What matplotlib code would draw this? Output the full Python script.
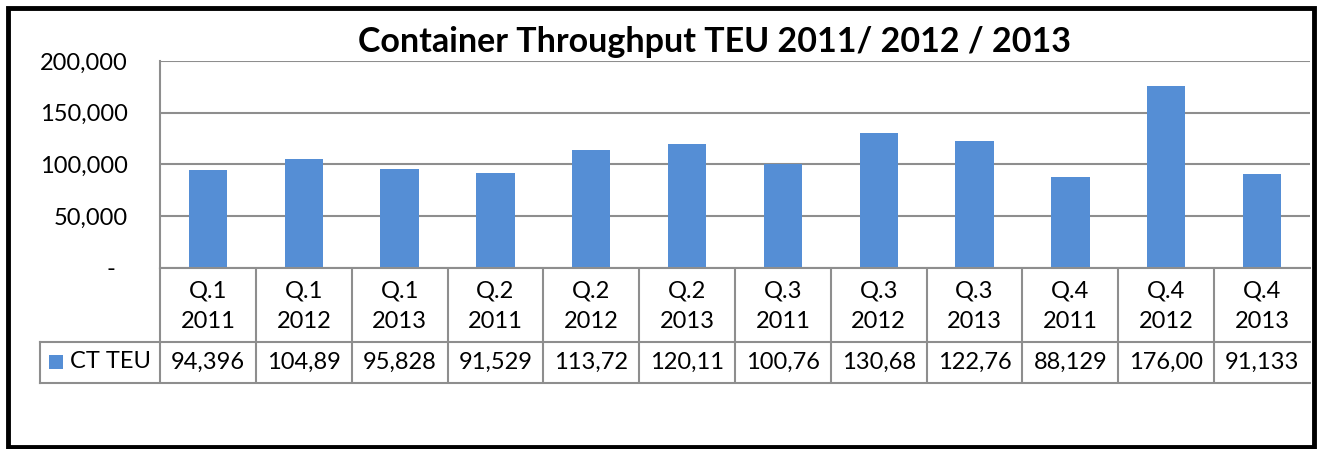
import matplotlib
matplotlib.use("Agg")
import matplotlib.pyplot as plt
from matplotlib.patches import Rectangle
from matplotlib.ticker import FuncFormatter

plt.rcParams['font.family'] = ['Lato', 'DejaVu Sans']

# ---- data ----
quarters = ["Q.1", "Q.1", "Q.1", "Q.2", "Q.2", "Q.2", "Q.3", "Q.3", "Q.3", "Q.4", "Q.4", "Q.4"]
years = ["2011", "2012", "2013", "2011", "2012", "2013", "2011", "2012", "2013", "2011", "2012", "2013"]
values = [94396, 104890, 95828, 91529, 113720, 120110, 100760, 130680, 122760, 88129, 176000, 91133]
table_labels = ["94,396", "104,89", "95,828", "91,529", "113,72", "120,11",
                "100,76", "130,68", "122,76", "88,129", "176,00", "91,133"]
series_name = "CT TEU"
title = "Container Throughput TEU 2011/ 2012 / 2013"
yticks = [0, 50000, 100000, 150000, 200000]

W, H = 1320, 449
DPI = 100
fig = plt.figure(figsize=(W / DPI, H / DPI), dpi=DPI)
fig.patch.set_facecolor("white")

def fx(px):
    return px / W

def fy(py):
    return 1 - py / H

BAR = "#558ED5"
GRID = "#8E8E8E"
FS = 17

# plot area
left, right, top, bottom = 160, 1310, 61, 268
ax = fig.add_axes([fx(left), fy(bottom), fx(right - left), (bottom - top) / H])
n = len(values)
x = list(range(n))
ax.bar(x, values, width=0.4, color=BAR, zorder=3)
ax.set_xlim(-0.5, n - 0.5)
ax.set_ylim(0, 200000)
ax.set_yticks(yticks)
ax.yaxis.set_major_formatter(FuncFormatter(lambda v, p: "-  " if v == 0 else f"{int(v):,}"))
ax.tick_params(axis="y", length=0, pad=23, labelsize=FS, labelcolor="black")
ax.set_xticks([])
ax.grid(axis="y", color=GRID, linewidth=1.5, zorder=0)
for s in ["top", "right", "bottom"]:
    ax.spines[s].set_visible(False)
ax.spines["left"].set_color(GRID)
ax.spines["left"].set_linewidth(1.5)

# title
fig.text(fx(715), fy(42), title, ha="center", va="center", fontsize=24.5, fontweight="bold", color="black")

# data table
tbottom = 383
rowsplit = 342
tax = fig.add_axes([fx(left), fy(tbottom), fx(right - left), (tbottom - bottom) / H])
tax.set_xlim(-0.5, n - 0.5)
tax.set_ylim(0, tbottom - bottom)
tax.axis("off")
ysplit = tbottom - rowsplit
lw = 1.5
for b in [i - 0.5 for i in range(n + 1)]:
    if b < n - 0.5:
        tax.plot([b, b], [0, tbottom - bottom], color=GRID, lw=lw, clip_on=False, solid_capstyle="butt")
tax.plot([-0.5, n - 0.5], [tbottom - bottom, tbottom - bottom], color=GRID, lw=lw, clip_on=False)
for i in range(n):
    tax.text(x[i], (tbottom - bottom + ysplit) / 2 - 1, f"{quarters[i]}\n{years[i]}", ha="center", va="center",
             fontsize=FS, linespacing=1.55)
    tax.text(x[i], ysplit / 2, table_labels[i], ha="center", va="center", fontsize=FS)

# legend cell + row lines across full table width (figure coords)
for yy in [rowsplit, tbottom]:
    fig.add_artist(plt.Line2D([fx(40), fx(right)], [fy(yy), fy(yy)], color=GRID, lw=lw))
fig.add_artist(plt.Line2D([fx(40), fx(40)], [fy(rowsplit), fy(tbottom)], color=GRID, lw=lw))
fig.add_artist(Rectangle((fx(49), fy(369)), fx(14), 14 / H, facecolor=BAR, edgecolor="none"))
fig.text(fx(70), fy(362), series_name, ha="left", va="center", fontsize=FS)

# outer frame
fig.add_artist(Rectangle((fx(8), fy(447)), fx(1313.5 - 8), (447 - 7.5) / H, facecolor="none",
                         edgecolor="black", lw=3.5, transform=fig.transFigure))

fig.savefig("out.png", dpi=DPI, facecolor="white")
